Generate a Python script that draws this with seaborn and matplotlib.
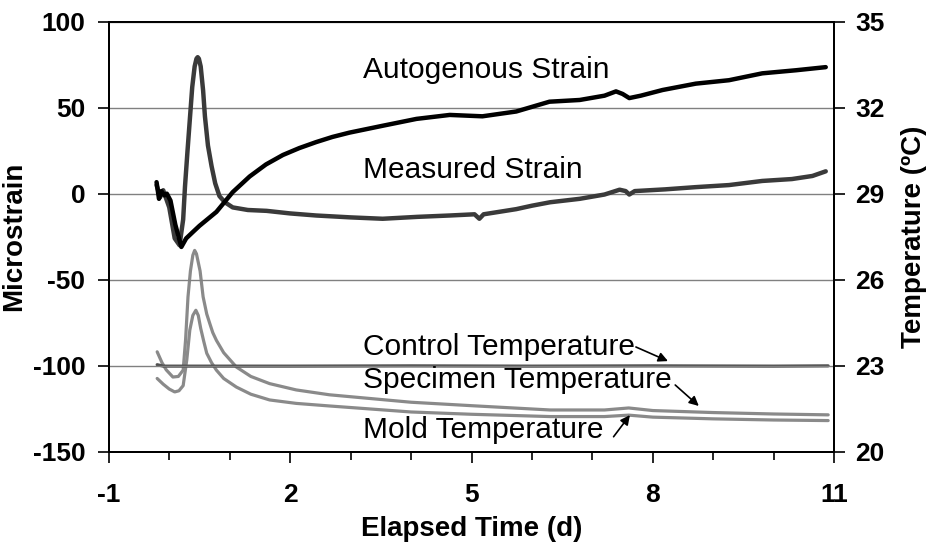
import numpy as np
import pandas as pd
import seaborn as sns
import matplotlib.pyplot as plt
from matplotlib.ticker import MultipleLocator, FixedLocator

# ---- data ----
auto_t = [-0.21, -0.17, -0.13, -0.08, -0.04, 0.02, 0.10, 0.20, 0.28, 0.40, 0.50, 0.78, 1.05,
          1.33, 1.60, 1.88, 2.15, 2.43, 2.70, 2.98, 3.53, 4.09, 4.64, 5.18, 5.74, 6.29, 6.79,
          7.20, 7.39, 7.50, 7.61, 7.80, 8.16, 8.71, 9.26, 9.81, 10.37, 10.86]
auto_strain = [6.7, -3, 1.5, -1, 0, -4, -18, -31, -26, -22, -18.7, -10.6, 0.9,
               10, 17, 22.5, 26.5, 30, 33, 35.5, 39.5, 43.5, 45.8, 45, 47.8, 53.5, 54.5,
               57, 59.5, 58, 55.6, 57, 60.3, 64, 66, 70, 71.8, 73.6]

meas_t = [-0.21, -0.15, -0.10, -0.05, 0.00, 0.09, 0.17, 0.23, 0.26, 0.30, 0.34, 0.38, 0.42,
          0.45, 0.47, 0.49, 0.52, 0.56, 0.59, 0.64, 0.70, 0.76, 0.83, 0.92, 1.05, 1.30, 1.61,
          2.00, 2.43, 3.00, 3.53, 4.10, 4.64, 5.05, 5.13, 5.20, 5.74, 6.00, 6.30, 6.79, 7.20,
          7.45, 7.55, 7.61, 7.70, 8.20, 8.71, 9.26, 9.81, 10.30, 10.64, 10.86]
meas_strain = [5, -2, 2, -3, -8, -26, -30, -15, 4, 24, 43, 62, 74,
               78.5, 79.4, 78.5, 74, 60, 45, 28, 16, 6, -1.4, -5, -8, -9.5, -10,
               -11.5, -12.7, -13.8, -14.6, -13.5, -12.7, -12, -14.6, -12, -9, -7, -5, -3, -0.5,
               2.3, 1.5, -0.5, 1.5, 2.5, 3.8, 5, 7.4, 8.5, 10.3, 13]

ctrl_t = [-0.20, -0.10, 0.5, 2.0, 4.0, 6.0, 8.0, 10.0, 10.9]
ctrl_temp = [23.03, 22.98, 22.98, 22.98, 22.99, 22.98, 22.99, 22.98, 22.99]

spec_t = [-0.20, -0.12, -0.05, 0.06, 0.15, 0.23, 0.27, 0.31, 0.35, 0.39, 0.42, 0.45, 0.51,
          0.56, 0.62, 0.67, 0.72, 0.78, 0.90, 1.11, 1.35, 1.66, 2.10, 2.65, 4.0, 5.0, 6.3,
          7.2, 7.6, 8.0, 9.0, 10.0, 10.9]
spec_temp = [23.48, 23.1, 22.85, 22.6, 22.62, 22.84, 23.9, 25.4, 26.3, 26.85, 27.02, 26.9, 26.3,
             25.4, 24.8, 24.47, 24.15, 23.88, 23.45, 22.95, 22.62, 22.37, 22.15, 21.98, 21.72, 21.6, 21.45,
             21.45, 21.52, 21.43, 21.36, 21.31, 21.28]

mold_t = [-0.20, -0.10, 0.00, 0.09, 0.16, 0.23, 0.29, 0.34, 0.39, 0.44, 0.48, 0.52, 0.57,
          0.62, 0.70, 0.78, 0.90, 1.11, 1.35, 1.66, 2.10, 2.65, 4.0, 5.0, 6.3, 7.2, 7.6,
          8.0, 9.0, 10.0, 10.9]
mold_temp = [22.55, 22.35, 22.18, 22.08, 22.12, 22.3, 23.2, 24.24, 24.75, 24.93, 24.75, 24.3, 23.85,
             23.43, 23.1, 22.84, 22.55, 22.25, 22.0, 21.8, 21.68, 21.59, 21.38, 21.3, 21.22, 21.22, 21.27,
             21.2, 21.14, 21.1, 21.08]

x_major = [-1, 2, 5, 8, 11]
temp_ticks = [20, 23, 26, 29, 32, 35]

# ---- style ----
sns.set_style("white")
plt.rcParams['font.family'] = ['Liberation Sans', 'DejaVu Sans']
plt.rcParams['axes.unicode_minus'] = False
plt.rcParams['text.color'] = 'black'
plt.rcParams['axes.labelcolor'] = 'black'
plt.rcParams['xtick.color'] = 'black'
plt.rcParams['ytick.color'] = 'black'

fig = plt.figure(figsize=(9.3, 5.44), dpi=100)
ax = fig.add_axes([0.117, 0.170, 0.780, 0.790])
ax2 = ax.twinx()

# temperature on right axis
sns.lineplot(x=spec_t, y=spec_temp, ax=ax2, color='#8a8a8a', lw=2.3, estimator=None)
sns.lineplot(x=mold_t, y=mold_temp, ax=ax2, color='#8a8a8a', lw=2.3, estimator=None)
sns.lineplot(x=ctrl_t, y=ctrl_temp, ax=ax2, color='#505050', lw=2.3, estimator=None)

# strain on left axis (drawn on top)
ax.set_zorder(ax2.get_zorder() + 1)
ax.patch.set_visible(False)
sns.lineplot(x=meas_t, y=meas_strain, ax=ax, color='#3a3a3a', lw=3.2, estimator=None)
sns.lineplot(x=auto_t, y=auto_strain, ax=ax, color='#000000', lw=3.2, estimator=None)

ax.set_xlim(-1, 11)
ax.set_ylim(-150, 100)
ax2.set_ylim(20, 35)
ax.yaxis.set_major_locator(MultipleLocator(50))
ax2.yaxis.set_major_locator(FixedLocator(temp_ticks))
ax.xaxis.set_major_locator(FixedLocator(x_major))
ax.xaxis.set_minor_locator(MultipleLocator(1))

ax.grid(axis='y', color='#808080', lw=1.0)
ax.set_axisbelow(True)

for a in (ax, ax2):
    for s in a.spines.values():
        s.set_color('black')
        s.set_linewidth(1.4)

ax.tick_params(axis='x', which='major', direction='out', length=8, width=1.2,
               labelsize=19, color='black', pad=15, bottom=True)
ax.tick_params(axis='x', which='minor', direction='out', length=6, width=1.2, color='black', bottom=True)
ax.tick_params(axis='y', which='major', direction='out', length=8, width=1.2,
               labelsize=19, color='black', pad=9, left=True)
ax2.tick_params(axis='y', direction='out', length=8, width=1.2, labelsize=19, color='black',
                pad=7, right=True)
for lab in ax.get_xticklabels() + ax.get_yticklabels() + ax2.get_yticklabels():
    lab.set_fontweight('bold')

ax.set_xlabel('Elapsed Time (d)', fontsize=20, fontweight='bold', labelpad=6)
ax.set_ylabel('Microstrain', fontsize=20, fontweight='bold', labelpad=4)
ax2.set_ylabel('Temperature (ºC)', fontsize=20, fontweight='bold', labelpad=12)

# annotations
tkw = dict(fontsize=21.5, va='center', ha='left', color='black')
ax.text(3.2, 72, 'Autogenous Strain', **tkw)
ax.text(3.2, 14, 'Measured Strain', **tkw)
ax.text(3.2, -89, 'Control Temperature', **tkw)
ax.text(3.2, -108.3, 'Specimen Temperature', **tkw)
ax.text(3.2, -137.7, 'Mold Temperature', **tkw)

akw = dict(arrowstyle='-|>', color='black', lw=1.2, mutation_scale=14, shrinkA=0, shrinkB=0)
ax.annotate('', xy=(8.25, -97.4), xytext=(7.72, -89.2), arrowprops=akw)
ax.annotate('', xy=(8.76, -123.5), xytext=(8.37, -111.3), arrowprops=akw)
ax.annotate('', xy=(7.62, -128.8), xytext=(7.35, -141.4), arrowprops=akw)

fig.savefig('out.png', dpi=100)
